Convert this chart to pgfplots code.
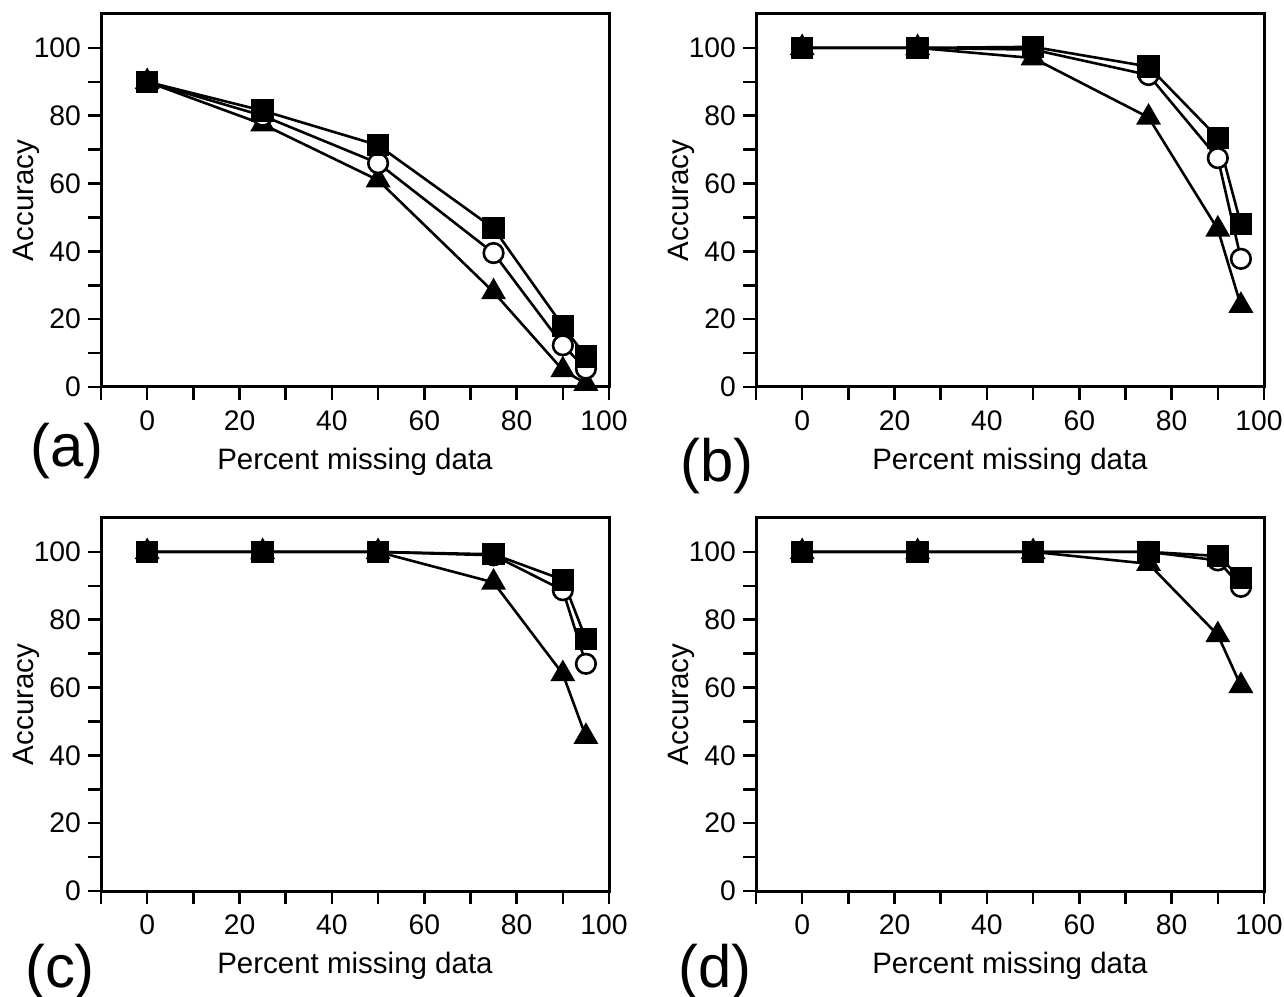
\documentclass[border=0pt]{standalone}
\usepackage{fontspec}
\setmainfont{Liberation Sans}
\usepackage{pgfplots}
\pgfplotsset{compat=1.18}

\pgfplotsset{
  panel/.style={
    scale only axis, width=254bp, height=186.5bp,
    anchor=south west,
    xmin=-10, xmax=100, ymin=0, ymax=110,
    xtick={0,20,...,100}, minor xtick={-10,10,...,90},
    xticklabels={0,20,40,60,80,\hspace*{-5bp}100},
    ytick={0,20,...,100}, minor ytick={10,30,...,90},
    tick align=outside, tick pos=left,
    major tick length=6.5bp, minor tick length=6.5bp,
    every tick/.append style={black, line width=1.3bp},
    every minor tick/.append style={black, line width=1.3bp},
    axis line style={black, line width=1.5bp},
    /pgf/number format/assume math mode=true,
    tick label style={font=\fontsize{14.2}{16}\selectfont},
    xticklabel style={yshift=-1.8bp},
    label style={font=\fontsize{14.8}{16}\selectfont},
    xlabel={Percent missing data},
    ylabel={Accuracy},
    xlabel style={at={(axis description cs:0.5,-0.2225)}, anchor=base},
    ylabel style={at={(axis description cs:-0.133,0.5)}, anchor=base},
    clip=false,
  },
  tri/.style={black, line width=1.3bp, mark=triangle*, mark size=6.4bp,
    mark options={solid, fill=black, line width=0.8bp}},
  circ/.style={black, line width=1.3bp, mark=*, mark size=4.9bp,
    mark options={solid, fill=white, line width=1.3bp}},
  sq/.style={black, line width=1.3bp, mark=square*, mark size=5.2bp,
    mark options={solid, fill=black, line width=0.8bp}},
}

\begin{document}
\begin{tikzpicture}
\useasboundingbox (0,0) rectangle (642bp,498.5bp);

% (a)
\begin{axis}[panel, at={(50.5bp,305bp)}]
\addplot[tri] coordinates {(0,90) (25,77.5) (50,61) (75,28) (90,5) (95,1)};
\addplot[circ] coordinates {(0,90) (25,80) (50,66) (75,39.5) (90,12.3) (95,5.4)};
\addplot[sq] coordinates {(0,90) (25,81.5) (50,71.3) (75,46.8) (90,18) (95,9)};
\end{axis}

% (b)
\begin{axis}[panel, at={(378bp,305bp)}]
\addplot[tri] coordinates {(0,100) (25,100) (50,97) (75,79.5) (90,46.5) (95,24)};
\addplot[circ] coordinates {(0,100) (25,100) (50,99.5) (75,92) (90,67.5) (95,37.8)};
\addplot[sq] coordinates {(0,100) (25,100) (50,100.3) (75,94.5) (90,73.5) (95,48)};
\end{axis}

% (c)
\begin{axis}[panel, at={(50.5bp,53bp)}]
\addplot[tri] coordinates {(0,100) (25,100) (50,100) (75,91) (90,64) (95,45.5)};
\addplot[circ] coordinates {(0,100) (25,100) (50,100) (75,99) (90,88.7) (95,67)};
\addplot[sq] coordinates {(0,100) (25,100) (50,100) (75,99.3) (90,91.8) (95,74.3)};
\end{axis}

% (d)
\begin{axis}[panel, at={(378bp,53bp)}]
\addplot[tri] coordinates {(0,100) (25,100) (50,100) (75,96.5) (90,75.5) (95,60.5)};
\addplot[circ] coordinates {(0,100) (25,100) (50,100) (75,100) (90,97.5) (95,89.7)};
\addplot[sq] coordinates {(0,100) (25,100) (50,100) (75,100) (90,98.8) (95,92.3)};
\end{axis}

\node[font=\fontsize{30}{36}\selectfont, inner sep=0pt] at (33.5bp,273bp) {(a)};
\node[font=\fontsize{30}{36}\selectfont, inner sep=0pt] at (358.5bp,265.5bp) {(b)};
\node[font=\fontsize{30}{36}\selectfont, inner sep=0pt] at (30bp,12.5bp) {(c)};
\node[font=\fontsize{30}{36}\selectfont, inner sep=0pt] at (357.5bp,12.5bp) {(d)};
\end{tikzpicture}
\end{document}
